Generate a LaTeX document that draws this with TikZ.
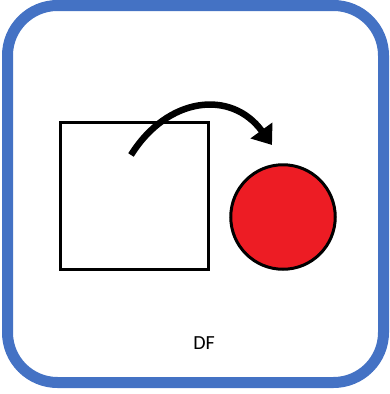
\documentclass[tikz,border=0pt]{standalone}
\usepackage{fontspec}
\setmainfont{Carlito}
\usetikzlibrary{arrows.meta,positioning}
\definecolor{frameStroke}{HTML}{4472C4}
\definecolor{ballFill}{HTML}{ED1C24}
\definecolor{inkMain}{HTML}{000000}

\begin{document}
\begin{tikzpicture}[
    x=1pt, y=-1pt,
    frame/.style={
        draw=frameStroke, line width=11pt,
        rounded corners=50pt, fill=white
    },
    boxNode/.style={
        rectangle, draw=inkMain, line width=3pt,
        minimum width=148pt, minimum height=147pt,
        inner sep=0pt, outer sep=0pt
    },
    ballNode/.style={
        circle, draw=inkMain, line width=3pt,
        fill=ballFill,
        minimum size=104.5pt,
        inner sep=0pt, outer sep=0pt
    },
    label/.style={font=\fontsize{20}{24}\selectfont, text=inkMain},
    hop/.style={line width=6.5pt, draw=inkMain,
        -{Triangle[length=18pt,width=26pt]}}
]

\useasboundingbox (0,0) rectangle (389,394);

% Frame round the whole card
\draw[frame] (7.5,5.5) rectangle (383.5,382.5);

\node[boxNode] (Box) at (134.5,196) {};
\node[ballNode] (Ball) at (283,217) {};
\node[label] (Caption) at (204,343) {DF};

% Curved hop from inside the box towards the ball
\coordinate (HopStart) at (131,155);
\coordinate (HopEnd) at (272,145);
\draw[hop] (HopStart) to[out=58,in=126,looseness=1.25] (HopEnd);

\end{tikzpicture}
\end{document}
